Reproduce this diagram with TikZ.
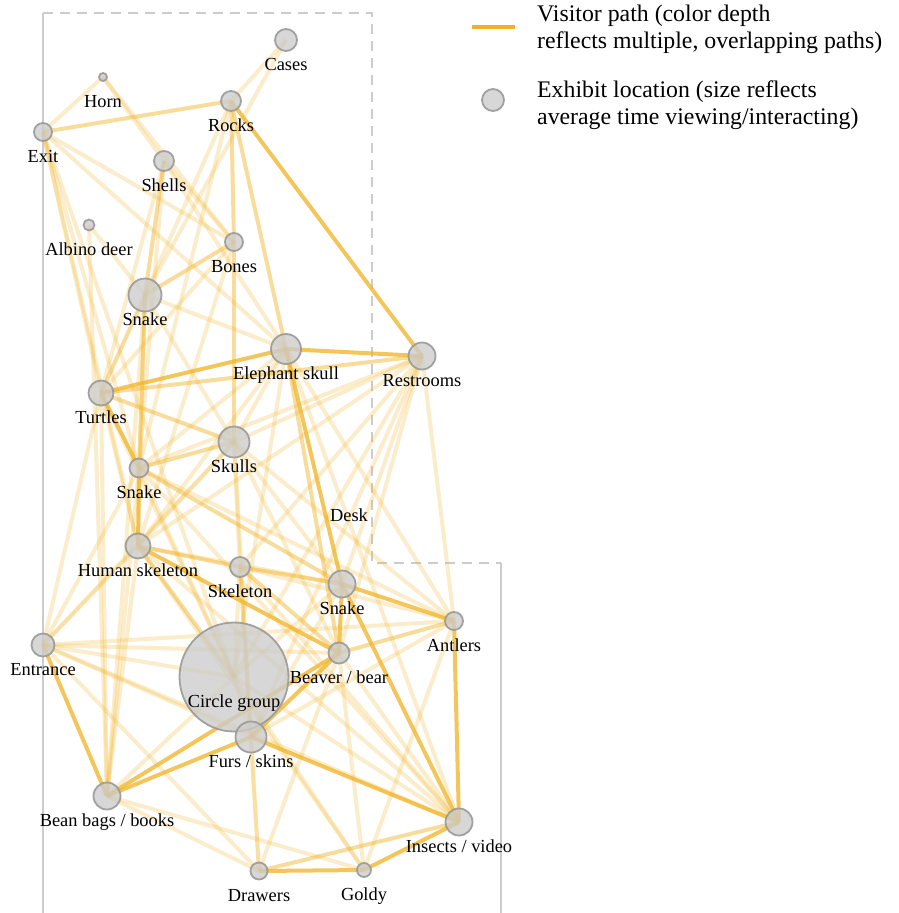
\documentclass[tikz,border=0pt]{standalone}
\usepackage{fontspec}
\setmainfont{Liberation Serif}
\usetikzlibrary{backgrounds}
\definecolor{pathgold}{RGB}{240,178,36}
\definecolor{exhibitgrey}{RGB}{204,204,204}
\definecolor{framegrey}{RGB}{204,204,204}
\begin{document}
\begin{tikzpicture}[x=1pt, y=-1pt,
    exhibit/.style={circle, fill=exhibitgrey, fill opacity=0.78, draw=black!40, draw opacity=0.9, line width=1.8pt, inner sep=0pt, outer sep=0pt},
    lbl/.style={anchor=base, inner sep=0pt, font=\fontsize{18.4}{22}\selectfont},
    keytext/.style={anchor=base west, inner sep=0pt, font=\fontsize{23.8}{28}\selectfont},
    visit/.style={draw=pathgold, line width=4pt},
    visit light/.style={visit, draw opacity=0.24},
    visit mid/.style={visit, draw opacity=0.45},
    visit strong/.style={visit, draw opacity=0.75},
    frame/.style={draw=framegrey, line width=1.6pt},
    frame dash/.style={frame, dash pattern=on 10pt off 7pt}]
  \useasboundingbox (0,0) rectangle (898,913);

  % exhibits
  \foreach \n/\x/\y/\r/\t in {
      cas/286/40/11/Cases, horn/103/77/4/Horn, rock/231/101/10/Rocks, exit/43/132/9/Exit,
      shel/164/161/10/Shells, albi/89/225/5.5/Albino deer, bone/234/242/9/Bones,
      snkA/145/295/16.5/Snake, elep/286/349/15/Elephant skull, rest/422/356/13.5/Restrooms,
      turt/101/393/12.5/Turtles, skul/234/442/15.5/Skulls, snkB/139/468/9.5/Snake,
      hum/138/546/12.5/Human skeleton, skel/240/567/10/Skeleton, snkC/342/584/13.5/Snake,
      antl/454/621/9/Antlers, entr/43/645/11.5/Entrance, beav/339/653/10.5/{Beaver / bear},
      circ/234/677/54.5/Circle group, furs/251/737/15.5/{Furs / skins},
      bean/107/796/13.5/{Bean bags / books}, inse/459/822/13.5/{Insects / video},
      drwr/259/871/8.5/Drawers, gold/364/870/7/Goldy}
  {
    \node[exhibit, minimum size=\r*2pt] (\n) at (\x,\y) {};
    \node[lbl] (\n-l) at ([yshift=-30pt]\n.center) {\t};
  }
  \coordinate (desk) at (349,491);
  \node[lbl] (desk-l) at ([yshift=-30pt]desk) {Desk};

  % legend
  \draw[draw=pathgold, line width=4pt] (472,27) -- (515,27);
  \node[keytext] (key-a) at (537,21) {Visitor path (color depth};
  \node[keytext] (key-b) at (537,48) {reflects multiple, overlapping paths)};
  \node[exhibit, minimum size=22pt] (key) at (493,100) {};
  \node[keytext] (key-c) at (537,97) {Exhibit location (size reflects};
  \node[keytext] (key-d) at (537,124) {average time viewing/interacting)};

  \begin{scope}[on background layer]
    % floor plan
    \draw[frame] (43,13) -- (43,913);
    \draw[frame dash] (43,13) -- (372,13) -- (372,563) -- (501,563);
    \draw[frame] (501,563) -- (501,913);
    % visitor paths
    \foreach \a/\b in {cas/rock, cas/snkA, horn/exit, horn/shel, horn/bone, exit/bone, exit/elep,
        exit/turt, exit/snkB, exit/hum, exit/circ, albi/bean, albi/snkA, shel/turt, shel/bone,
        shel/elep, shel/snkB, rock/snkA, rock/snkB, bone/hum, bone/turt, snkA/skul, snkA/hum,
        snkA/bean, snkA/elep, rest/skul, rest/snkB, rest/hum, rest/skel, rest/snkC, rest/circ,
        rest/furs, rest/beav, rest/antl, elep/skul, elep/snkB, elep/hum, elep/circ, elep/antl,
        elep/inse, turt/hum, turt/entr, turt/bean, turt/circ, skul/hum, skul/skel, skul/snkC,
        skul/beav, skul/antl, skul/entr, skul/furs, snkB/antl, snkB/bean, snkB/circ, snkB/inse,
        hum/snkC, hum/bean, hum/entr, hum/inse, hum/gold, skel/antl, skel/furs, skel/drwr,
        skel/circ, skel/inse, snkC/circ, snkC/furs, antl/furs, antl/gold, antl/entr, entr/snkB,
        entr/beav, entr/circ, entr/drwr, entr/furs, entr/inse, beav/drwr, beav/gold, beav/inse,
        circ/furs, circ/inse, circ/gold, circ/bean, furs/drwr, bean/drwr, bean/gold}
      \draw[visit light] (\a.center) -- (\b.center);
    \foreach \a/\b in {exit/rock, turt/rest, bone/snkA, snkA/turt, snkA/snkB, turt/skul,
        skul/snkB, hum/skel, skel/beav, snkB/snkC, beav/antl, drwr/inse, hum/circ, shel/snkA,
        bone/skul, rock/bone, elep/beav, skel/snkC, rock/elep}
      \draw[visit mid] (\a.center) -- (\b.center);
    \foreach \a/\b in {rock/rest, elep/rest, turt/elep, turt/snkB, snkB/hum, elep/snkC,
        snkC/antl, snkC/beav, snkC/inse, antl/inse, beav/furs, furs/bean, furs/inse,
        entr/bean, drwr/gold, gold/inse, hum/beav, beav/bean}
      \draw[visit strong] (\a.center) -- (\b.center);
  \end{scope}
\end{tikzpicture}
\end{document}
